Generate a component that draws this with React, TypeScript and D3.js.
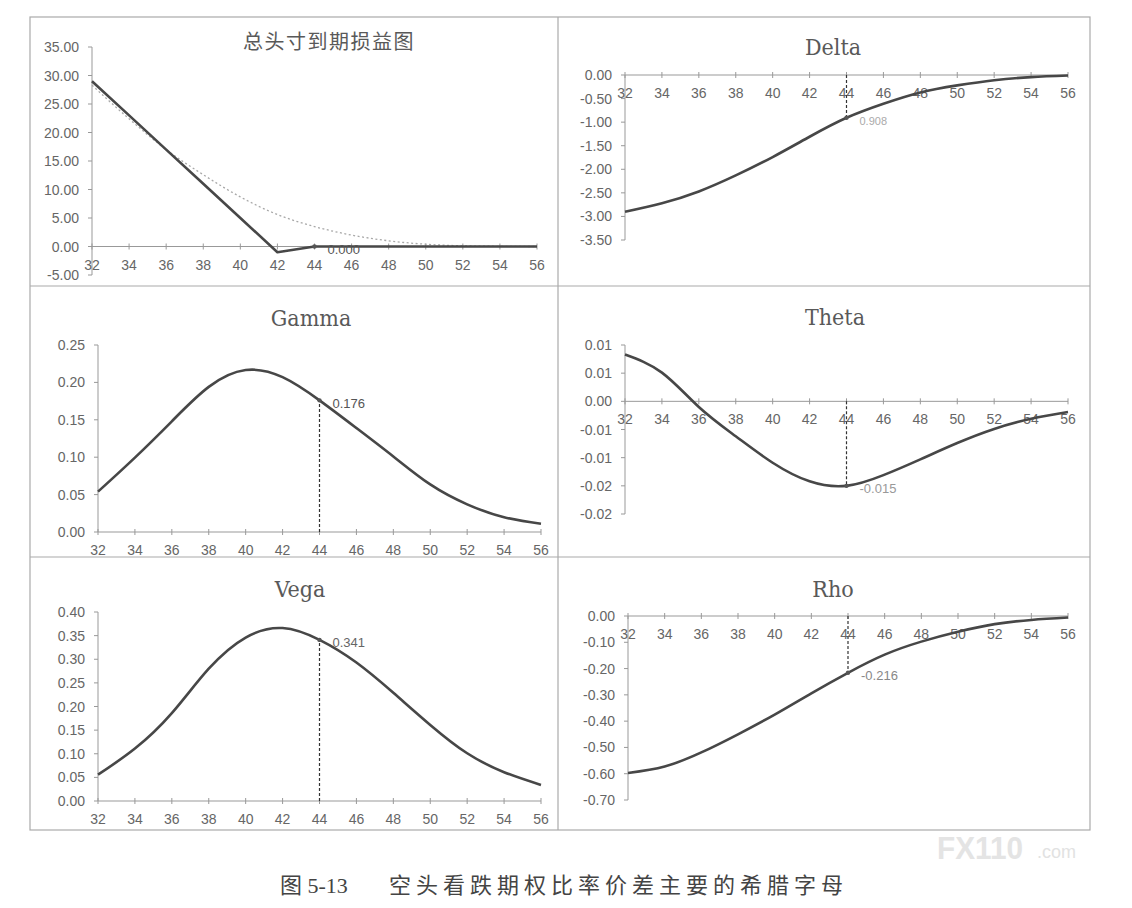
import React from 'react';
import * as d3 from 'd3';

// underlying price grid (x axis)
const prices = [32, 34, 36, 38, 40, 42, 44, 46, 48, 50, 52, 54, 56];
const spot = 44;

// 总头寸到期损益图
const payoffExpiry = [29, 23, 17, 11, 5, -1, 0, 0, 0, 0, 0, 0, 0];
const payoffNow = [28.3, 22.4, 17.0, 12.6, 8.7, 5.6, 3.5, 2.0, 1.0, 0.4, 0.12, 0.03, 0.0];

// greeks
const delta = [-2.9, -2.72, -2.47, -2.13, -1.74, -1.31, -0.908, -0.61, -0.37, -0.22, -0.11, -0.045, -0.012];
const gamma = [0.054, 0.0995, 0.148, 0.194, 0.2165, 0.207, 0.176, 0.139, 0.101, 0.0636, 0.037, 0.0197, 0.011];
const theta = [0.0083, 0.0051, -0.001, -0.0062, -0.0109, -0.0142, -0.015, -0.0131, -0.0103, -0.0074, -0.0049, -0.0031, -0.0019];
const vega = [0.0557, 0.111, 0.186, 0.28, 0.346, 0.366, 0.341, 0.293, 0.229, 0.161, 0.101, 0.061, 0.034];
const rho = [-0.597, -0.5725, -0.519, -0.45, -0.375, -0.294, -0.216, -0.147, -0.0975, -0.06, -0.031, -0.015, -0.006];

// y ticks and their printed labels
const payoffTicks = [35, 30, 25, 20, 15, 10, 5, 0, -5];
const payoffTickLabels = ['35.00', '30.00', '25.00', '20.00', '15.00', '10.00', '5.00', '0.00', '-5.00'];
const deltaTicks = [0, -0.5, -1, -1.5, -2, -2.5, -3, -3.5];
const deltaTickLabels = ['0.00', '-0.50', '-1.00', '-1.50', '-2.00', '-2.50', '-3.00', '-3.50'];
const gammaTicks = [0.25, 0.2, 0.15, 0.1, 0.05, 0];
const gammaTickLabels = ['0.25', '0.20', '0.15', '0.10', '0.05', '0.00'];
const thetaTicks = [0.01, 0.005, 0, -0.005, -0.01, -0.015, -0.02];
const thetaTickLabels = ['0.01', '0.01', '0.00', '-0.01', '-0.01', '-0.02', '-0.02'];
const vegaTicks = [0.4, 0.35, 0.3, 0.25, 0.2, 0.15, 0.1, 0.05, 0];
const vegaTickLabels = ['0.40', '0.35', '0.30', '0.25', '0.20', '0.15', '0.10', '0.05', '0.00'];
const rhoTicks = [0, -0.1, -0.2, -0.3, -0.4, -0.5, -0.6, -0.7];
const rhoTickLabels = ['0.00', '-0.10', '-0.20', '-0.30', '-0.40', '-0.50', '-0.60', '-0.70'];

// value labels printed at the spot price
const spotLabels = ['0.000', '0.908', '0.176', '-0.015', '0.341', '-0.216'];

const tickFont = "'Liberation Sans', Arial, sans-serif";
const titleFont = "'DejaVu Serif Condensed', 'DejaVu Serif', serif";
const cjkFont = "'Noto Sans CJK SC', sans-serif";

interface PanelCfg {
  title: string;
  titleX: number;
  titleY: number;
  cjk?: boolean;
  x0: number;
  x1: number;
  yTop: number;
  yBottom: number;
  yDomain: [number, number];
  ticks: number[];
  tickLabels: string[];
  values: number[];
  extra?: number[];
  label: string;
  labelColor: string;
  labelSize: number;
  dashed: boolean;
}

const panels: PanelCfg[] = [
  {
    title: '总头寸到期损益图', titleX: 329, titleY: 49, cjk: true,
    x0: 92, x1: 537, yTop: 47, yBottom: 275, yDomain: [-5, 35],
    ticks: payoffTicks, tickLabels: payoffTickLabels,
    values: payoffExpiry, extra: payoffNow,
    label: spotLabels[0], labelColor: '#555', labelSize: 13, dashed: false,
  },
  {
    title: 'Delta', titleX: 833, titleY: 55,
    x0: 625, x1: 1068, yTop: 75, yBottom: 240, yDomain: [-3.5, 0],
    ticks: deltaTicks, tickLabels: deltaTickLabels,
    values: delta, label: spotLabels[1], labelColor: '#aaa', labelSize: 11, dashed: true,
  },
  {
    title: 'Gamma', titleX: 311, titleY: 326,
    x0: 98, x1: 541, yTop: 345, yBottom: 532, yDomain: [0, 0.25],
    ticks: gammaTicks, tickLabels: gammaTickLabels,
    values: gamma, label: spotLabels[2], labelColor: '#555', labelSize: 13, dashed: true,
  },
  {
    title: 'Theta', titleX: 835, titleY: 325,
    x0: 625, x1: 1068, yTop: 345, yBottom: 514, yDomain: [-0.02, 0.01],
    ticks: thetaTicks, tickLabels: thetaTickLabels,
    values: theta, label: spotLabels[3], labelColor: '#999', labelSize: 13, dashed: true,
  },
  {
    title: 'Vega', titleX: 300, titleY: 597,
    x0: 98, x1: 541, yTop: 612, yBottom: 801, yDomain: [0, 0.4],
    ticks: vegaTicks, tickLabels: vegaTickLabels,
    values: vega, label: spotLabels[4], labelColor: '#666', labelSize: 13, dashed: true,
  },
  {
    title: 'Rho', titleX: 833, titleY: 597,
    x0: 628, x1: 1068, yTop: 616, yBottom: 800, yDomain: [-0.7, 0],
    ticks: rhoTicks, tickLabels: rhoTickLabels,
    values: rho, label: spotLabels[5], labelColor: '#888', labelSize: 13, dashed: true,
  },
];

const Panel: React.FC<{ cfg: PanelCfg }> = ({ cfg }) => {
  const x = d3.scaleLinear().domain([prices[0], prices[prices.length - 1]]).range([cfg.x0, cfg.x1]);
  const y = d3.scaleLinear().domain(cfg.yDomain).range([cfg.yBottom, cfg.yTop]);
  const zeroY = y(0);
  const pts = prices.map((p, i) => [p, cfg.values[i]] as [number, number]);
  const line = d3.line<[number, number]>()
    .x(d => x(d[0]))
    .y(d => y(d[1]))
    .curve(cfg.extra ? d3.curveLinear : d3.curveNatural);
  const smooth = d3.line<[number, number]>()
    .x(d => x(d[0]))
    .y(d => y(d[1]))
    .curve(d3.curveMonotoneX);
  const si = prices.indexOf(spot);
  const sx = x(spot);
  const sy = y(cfg.values[si]);

  return (
    <g>
      <text x={cfg.titleX} y={cfg.titleY} textAnchor="middle" fill="#595959"
        fontFamily={cfg.cjk ? cjkFont : titleFont} fontSize={cfg.cjk ? 20 : 23}
        letterSpacing={cfg.cjk ? 1.5 : 0}>
        {cfg.title}
      </text>

      {/* y axis */}
      <line x1={cfg.x0} x2={cfg.x0} y1={y(cfg.yDomain[0])} y2={y(cfg.yDomain[1])} stroke="#999" strokeWidth={1} />
      {cfg.ticks.map((t, i) => (
        <g key={'y' + i}>
          <line x1={cfg.x0 - 4} x2={cfg.x0} y1={y(t)} y2={y(t)} stroke="#999" />
          <text x={cfg.x0 - 13} y={y(t)} dy="0.36em" textAnchor="end" fontFamily={tickFont} fontSize={14} fill="#666">
            {cfg.tickLabels[i]}
          </text>
        </g>
      ))}

      {/* x axis at zero */}
      <line x1={cfg.x0} x2={cfg.x1} y1={zeroY} y2={zeroY} stroke="#999" strokeWidth={1} />
      {prices.map(p => (
        <g key={'x' + p}>
          <line x1={x(p)} x2={x(p)} y1={zeroY - 3} y2={zeroY + 3} stroke="#999" />
          <text x={x(p)} y={zeroY + 23} textAnchor="middle" fontFamily={tickFont} fontSize={14} fill="#666">
            {p}
          </text>
        </g>
      ))}

      {cfg.extra && (
        <path d={smooth(prices.map((p, i) => [p, cfg.extra![i]] as [number, number])) || ''}
          fill="none" stroke="#a8a8a8" strokeWidth={1.3} strokeDasharray="2,2.5" />
      )}
      <path d={line(pts) || ''} fill="none" stroke="#474747" strokeWidth={2.6} strokeLinejoin="round" />

      {cfg.dashed && (
        <line x1={sx} x2={sx} y1={zeroY} y2={sy} stroke="#333" strokeWidth={1.2} strokeDasharray="3,2" />
      )}
      <circle cx={sx} cy={sy} r={2.2} fill="#555" />
      <text x={sx + 13} y={sy + 3} dy="0.35em" fontFamily={tickFont} fontSize={cfg.labelSize} fill={cfg.labelColor}>
        {cfg.label}
      </text>
    </g>
  );
};

export default function App() {
  return (
    <svg width={1132} height={908} style={{ position: 'absolute', left: 0, top: 0, background: '#fff' }}>
      <rect x={0} y={0} width={1132} height={908} fill="#fff" />
      {/* frame */}
      <rect x={30} y={17} width={1060} height={813} fill="none" stroke="#aaa" strokeWidth={1.2} />
      <line x1={558} x2={558} y1={17} y2={830} stroke="#aaa" strokeWidth={1.2} />
      <line x1={30} x2={1090} y1={286} y2={286} stroke="#aaa" strokeWidth={1.2} />
      <line x1={30} x2={1090} y1={557} y2={557} stroke="#aaa" strokeWidth={1.2} />

      {/* watermark */}
      <text x={937} y={859} textLength={86} lengthAdjust="spacingAndGlyphs"
        fontFamily="'Liberation Sans Narrow', 'Liberation Sans', sans-serif" fontWeight="bold" fontSize={32} fill="#e4e4e4">FX110</text>
      <text x={1037} y={858} fontFamily="'Liberation Sans', sans-serif" fontSize={18} fill="#e2e2e2">.com</text>

      {panels.map((cfg, i) => <Panel key={i} cfg={cfg} />)}

      {/* caption */}
      <text x={280} y={893} fontFamily="'Liberation Serif', 'Noto Sans CJK SC', serif" fontSize={22} fill="#444">图 5-13</text>
      <text x={389} y={893} fontFamily={cjkFont} fontSize={22} letterSpacing={5} fill="#444">空头看跌期权比率价差主要的希腊字母</text>
    </svg>
  );
}
